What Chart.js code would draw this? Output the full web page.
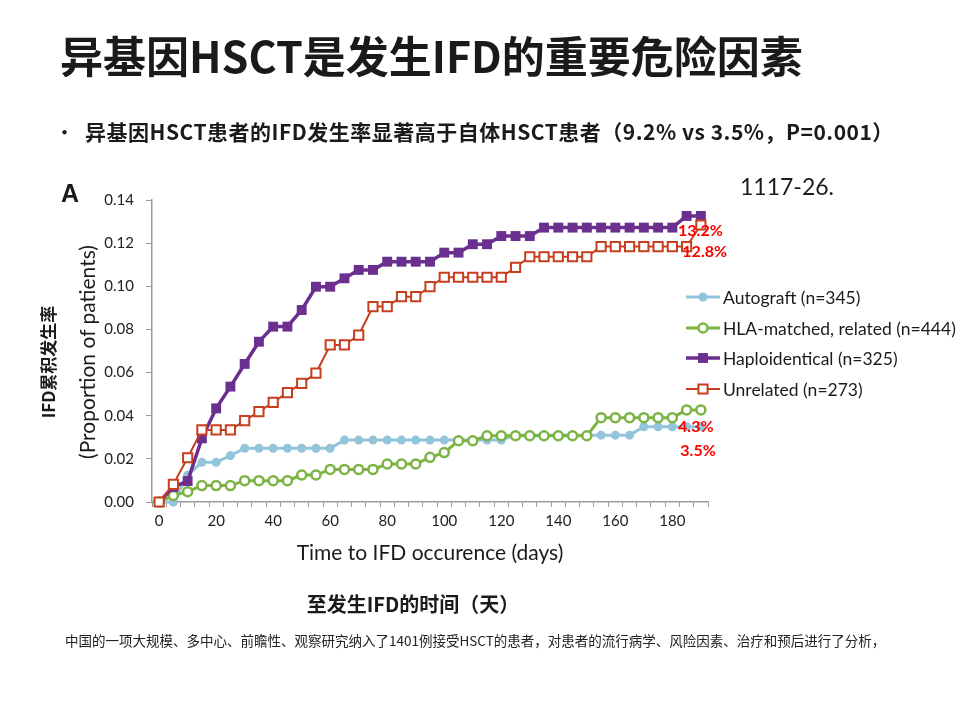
<!DOCTYPE html>
<html>
<head>
<meta charset="utf-8">
<script src="https://cdn.jsdelivr.net/npm/chart.js@4.4.1/dist/chart.umd.min.js"></script>
<style>
  body { margin: 0; background: #fff; }
  #wrap { position: relative; width: 960px; height: 720px; overflow: hidden; font-family: "Noto Sans CJK SC", sans-serif; color: #1a1a1a; }
  #chart { position: absolute; left: 0; top: 0; }
  .txt { position: absolute; white-space: nowrap; line-height: 1; }
  .rot { position: absolute; white-space: nowrap; line-height: 1; transform: translate(-50%, -50%) rotate(-90deg); }
</style>
</head>
<body>
<div id="wrap">
  <canvas id="chart" width="960" height="720"></canvas>
  <div class="txt" style="left:60px;top:33px;font-size:43px;font-weight:bold;">异基因HSCT是发生IFD的重要危险因素</div>
  <div class="txt" style="left:54px;top:121px;font-size:21px;">•</div>
  <div class="txt" style="left:85px;top:121px;font-size:21px;font-weight:bold;letter-spacing:0.5px;">异基因HSCT患者的IFD发生率显著高于自体HSCT患者（9.2% vs 3.5%，P=0.001）</div>
  <div class="txt" style="left:740px;top:175px;font-size:23px;font-family:Lato,sans-serif;">1117-26.</div>
  <div class="txt" style="left:61px;top:181px;font-size:25px;font-weight:bold;font-family:'Liberation Sans',sans-serif;">A</div>
  <div class="rot" style="left:47px;top:362px;font-size:17px;font-weight:bold;">IFD累积发生率</div>
  <div class="rot" style="left:86px;top:352px;font-size:21px;font-family:Lato,sans-serif;">(Proportion of patients)</div>
  <div class="txt" style="left:430px;top:551px;transform:translate(-50%,-50%);font-size:21px;font-family:Lato,sans-serif;">Time to IFD occurence (days)</div>
  <div class="txt" style="left:413px;top:604px;transform:translate(-50%,-50%);font-size:20px;font-weight:bold;">至发生IFD的时间（天）</div>
  <div class="txt" style="left:65px;top:634px;font-size:13.5px;color:#222;">中国的一项大规模、多中心、前瞻性、观察研究纳入了1401例接受HSCT的患者，对患者的流行病学、风险因素、治疗和预后进行了分析，</div>
</div>
<script>
// days after HSCT (one point every 5 days)
const days = [0, 5, 10, 15, 20, 25, 30, 35, 40, 45, 50, 55, 60, 65, 70, 75, 80, 85, 90, 95,
  100, 105, 110, 115, 120, 125, 130, 135, 140, 145, 150, 155, 160, 165, 170, 175, 180, 185, 190];

const autograft = [0, 0, 0.0125, 0.0184, 0.0184, 0.0215, 0.0249, 0.0249, 0.0249, 0.0249,
  0.0249, 0.0249, 0.0249, 0.0287, 0.0287, 0.0287, 0.0287, 0.0287, 0.0287, 0.0287,
  0.0287, 0.0287, 0.0287, 0.0287, 0.0287, 0.031, 0.031, 0.031, 0.031, 0.031,
  0.031, 0.031, 0.031, 0.031, 0.0349, 0.0349, 0.0349, 0.0349, 0.0349];

const hlaMatched = [0, 0.003, 0.0048, 0.0076, 0.0076, 0.0076, 0.0099, 0.0099, 0.0099, 0.0099,
  0.0125, 0.0125, 0.0151, 0.0151, 0.0151, 0.0151, 0.0176, 0.0176, 0.0176, 0.0207,
  0.0229, 0.0284, 0.0284, 0.0307, 0.0307, 0.0307, 0.0307, 0.0307, 0.0307, 0.0307,
  0.0307, 0.0391, 0.0391, 0.0391, 0.0391, 0.0391, 0.0391, 0.0427, 0.0427];

const haplo = [0, 0.007, 0.0097, 0.0295, 0.0434, 0.0535, 0.064, 0.0743, 0.0813, 0.0813,
  0.089, 0.0998, 0.0998, 0.1037, 0.1076, 0.1076, 0.1114, 0.1114, 0.1114, 0.1114,
  0.1156, 0.1156, 0.1195, 0.1195, 0.1233, 0.1233, 0.1233, 0.1272, 0.1272, 0.1272,
  0.1272, 0.1272, 0.1272, 0.1272, 0.1272, 0.1272, 0.1272, 0.1326, 0.1326];

const unrelated = [0, 0.0082, 0.0205, 0.0334, 0.0334, 0.0334, 0.0377, 0.0419, 0.0462, 0.0507,
  0.055, 0.0597, 0.0728, 0.0728, 0.0774, 0.0906, 0.0906, 0.0952, 0.0952, 0.0998,
  0.1042, 0.1042, 0.1042, 0.1042, 0.1042, 0.1088, 0.1137, 0.1137, 0.1137, 0.1137,
  0.1137, 0.1184, 0.1184, 0.1184, 0.1184, 0.1184, 0.1184, 0.1184, 0.1284];

const seriesNames = ["Autograft (n=345)", "HLA-matched, related (n=444)", "Haploidentical (n=325)", "Unrelated (n=273)"];
const yTicks = [0, 0.02, 0.04, 0.06, 0.08, 0.10, 0.12, 0.14];
const xLabelTicks = [0, 20, 40, 60, 80, 100, 120, 140, 160, 180];

// final-rate labels: [text, day, value]
const endLabels = [["13.2%", 182, 0.1256], ["12.8%", 183.5, 0.1159], ["4.3%", 182, 0.0348], ["3.5%", 182.8, 0.0236]];

function pts(vals) {
  return vals.map((v, i) => ({ x: days[i], y: v }));
}

const colors = {
  blue: "#92C4DA",
  green: "#7BB443",
  purple: "#6A2F8F",
  red: "#C73E1E"
};

const datasets = [
  { label: seriesNames[0], data: pts(autograft), borderColor: colors.blue, backgroundColor: colors.blue,
    borderWidth: 3, pointStyle: "circle", pointRadius: 4.5, pointBorderWidth: 0, order: 4 },
  { label: seriesNames[1], data: pts(hlaMatched), borderColor: colors.green, backgroundColor: "#fff",
    borderWidth: 3, pointStyle: "circle", pointRadius: 4.5, pointBorderWidth: 2.5, order: 3 },
  { label: seriesNames[2], data: pts(haplo), borderColor: colors.purple, backgroundColor: colors.purple,
    borderWidth: 3.5, pointStyle: "rect", pointRadius: 7, pointBorderWidth: 0, order: 2 },
  { label: seriesNames[3], data: pts(unrelated), borderColor: colors.red, backgroundColor: "#fff",
    borderWidth: 2, pointStyle: "rect", pointRadius: 6.5, pointBorderWidth: 2, order: 1 }
];

// legend drawn inside the plot, Excel style
const sideLegend = {
  id: "sideLegend",
  afterDraw(chart) {
    const ctx = chart.ctx;
    const area = chart.chartArea;
    const x0 = area.right - 22;
    const rows = [97, 128, 158, 189];
    ctx.save();
    chart.data.datasets.forEach((ds, i) => {
      const y = area.top + rows[i];
      ctx.strokeStyle = ds.borderColor;
      ctx.lineWidth = ds.borderWidth;
      ctx.beginPath();
      ctx.moveTo(x0, y);
      ctx.lineTo(x0 + 34, y);
      ctx.stroke();
      const cx = x0 + 17;
      ctx.fillStyle = ds.backgroundColor;
      ctx.lineWidth = ds.pointBorderWidth;
      ctx.beginPath();
      if (ds.pointStyle === "rect") {
        const s = ds.pointRadius * Math.SQRT1_2;
        ctx.rect(cx - s, y - s, 2 * s, 2 * s);
      } else {
        ctx.arc(cx, y, ds.pointRadius, 0, Math.PI * 2);
      }
      ctx.fill();
      if (ds.pointBorderWidth) ctx.stroke();
      ctx.fillStyle = "#1a1a1a";
      ctx.font = "17.5px Lato, sans-serif";
      ctx.textBaseline = "middle";
      ctx.textAlign = "left";
      ctx.fillText(ds.label, x0 + 37, y + 1);
    });
    ctx.restore();
  }
};

const endText = {
  id: "endText",
  afterDatasetsDraw(chart) {
    const ctx = chart.ctx;
    const xs = chart.scales.x, ys = chart.scales.y;
    ctx.save();
    ctx.fillStyle = "#FF0000";
    ctx.font = "bold 16px Lato, sans-serif";
    ctx.textBaseline = "middle";
    ctx.textAlign = "left";
    endLabels.forEach(l => {
      ctx.fillText(l[0], xs.getPixelForValue(l[1]), ys.getPixelForValue(l[2]));
    });
    ctx.restore();
  }
};

new Chart(document.getElementById("chart"), {
  type: "line",
  data: { datasets: datasets },
  options: {
    responsive: false,
    animation: false,
    devicePixelRatio: 1,
    layout: { padding: { left: 0, right: 252, top: 200, bottom: 0 } },
    datasets: { line: { clip: false, tension: 0 } },
    plugins: { legend: { display: false }, tooltip: { enabled: false } },
    scales: {
      x: {
        type: "linear",
        min: -2.5,
        max: 192.5,
        afterBuildTicks: (axis) => { axis.ticks = days.map(d => ({ value: d })); },
        afterFit: (axis) => { axis.height = 218; },
        ticks: {
          autoSkip: false,
          maxRotation: 0,
          padding: 5,
          color: "#222",
          font: { family: "Lato, sans-serif", size: 15 },
          callback: (v) => xLabelTicks.includes(v) ? String(v) : ""
        },
        grid: { offset: true, drawOnChartArea: false, tickLength: 5, color: "#9a9a9a", lineWidth: 1 },
        border: { color: "#9a9a9a", width: 1.5 }
      },
      y: {
        min: 0,
        max: 0.14,
        afterBuildTicks: (axis) => { axis.ticks = yTicks.map(v => ({ value: v })); },
        afterFit: (axis) => { axis.width = 152; },
        ticks: {
          padding: 12,
          color: "#222",
          font: { family: "Lato, sans-serif", size: 15 },
          callback: (v) => v.toFixed(2)
        },
        grid: { drawOnChartArea: false, tickLength: 6, color: "#9a9a9a", lineWidth: 1 },
        border: { color: "#9a9a9a", width: 1.5 }
      }
    }
  },
  plugins: [sideLegend, endText]
});
</script>
</body>
</html>
